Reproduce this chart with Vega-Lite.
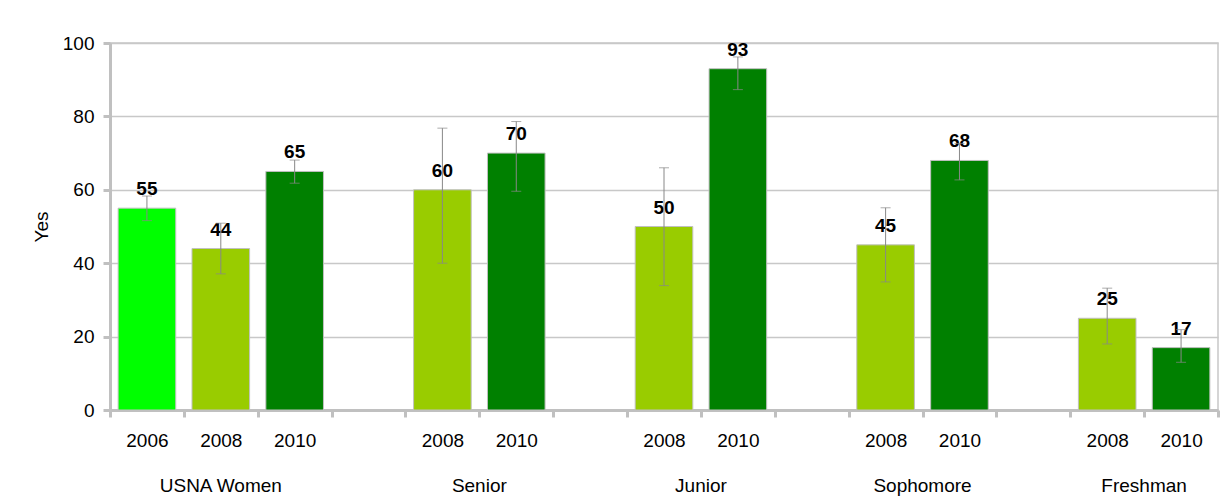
{
  "$schema": "https://vega.github.io/schema/vega-lite/v6.json",
  "width": 1108,
  "height": 367,
  "autosize": "none",
  "padding": {"left": 110, "top": 43, "right": 12, "bottom": 90},
  "background": "white",
  "config": {
    "font": "Liberation Sans",
    "view": {"stroke": "#c8c8c8", "strokeWidth": 1.5},
    "axis": {"labelFont": "Liberation Sans", "titleFont": "Liberation Sans", "labelColor": "#000000", "titleColor": "#000000"}
  },
  "data": {
    "values": [
      {"group": "USNA Women", "year": "2006", "slot": "USNA Women|2006", "value": 55, "lo": 51.6, "hi": 58.3},
      {"group": "USNA Women", "year": "2008", "slot": "USNA Women|2008", "value": 44, "lo": 37.1, "hi": 50.9},
      {"group": "USNA Women", "year": "2010", "slot": "USNA Women|2010", "value": 65, "lo": 61.8, "hi": 68.1},
      {"group": "Senior", "year": "2008", "slot": "Senior|2008", "value": 60, "lo": 40, "hi": 76.8},
      {"group": "Senior", "year": "2010", "slot": "Senior|2010", "value": 70, "lo": 59.6, "hi": 78.6},
      {"group": "Junior", "year": "2008", "slot": "Junior|2008", "value": 50, "lo": 33.9, "hi": 66},
      {"group": "Junior", "year": "2010", "slot": "Junior|2010", "value": 93, "lo": 87.3, "hi": 96.2},
      {"group": "Sophomore", "year": "2008", "slot": "Sophomore|2008", "value": 45, "lo": 34.9, "hi": 55.1},
      {"group": "Sophomore", "year": "2010", "slot": "Sophomore|2010", "value": 68, "lo": 62.7, "hi": 72.6},
      {"group": "Freshman", "year": "2008", "slot": "Freshman|2008", "value": 25, "lo": 18, "hi": 33.2},
      {"group": "Freshman", "year": "2010", "slot": "Freshman|2010", "value": 17, "lo": 13, "hi": 21.9}
    ]
  },
  "encoding": {
    "x": {
      "field": "slot",
      "type": "ordinal",
      "scale": {
        "domain": ["USNA Women|2006", "USNA Women|2008", "USNA Women|2010", "gap1", "Senior|2008", "Senior|2010", "gap2", "Junior|2008", "Junior|2010", "gap3", "Sophomore|2008", "Sophomore|2010", "gap4", "Freshman|2008", "Freshman|2010"],
        "paddingInner": 0,
        "paddingOuter": 0
      },
      "axis": {
        "title": null,
        "labelAngle": 0,
        "labelExpr": "indexof(datum.value + '', '|') > 0 ? split(datum.value + '', '|')[1] : ''",
        "labelFontSize": 19,
        "labelPadding": 14,
        "tickBand": "extent",
        "tickColor": "#c0c0c0",
        "tickWidth": 3,
        "tickSize": 7,
        "domainColor": "#c0c0c0",
        "domainWidth": 3,
        "grid": false
      }
    }
  },
  "layer": [
    {
      "mark": {"type": "bar", "width": {"band": 0.78}, "stroke": "#c0c0c0", "strokeWidth": 1},
      "encoding": {
        "y": {
          "field": "value",
          "type": "quantitative",
          "title": "Yes",
          "scale": {"domain": [0, 100], "nice": false},
          "axis": {
            "title": "Yes",
            "titleFontSize": 19,
            "titleFontWeight": "normal",
            "titlePadding": 11,
            "values": [0, 20, 40, 60, 80, 100],
            "labelFontSize": 19,
            "labelPadding": 9,
            "grid": true,
            "gridColor": "#c8c8c8",
            "gridWidth": 1.5,
            "tickColor": "#c0c0c0",
            "tickWidth": 3,
            "tickSize": 7,
            "domainColor": "#c0c0c0",
            "domainWidth": 3
          }
        },
        "color": {
          "field": "year",
          "type": "nominal",
          "scale": {"domain": ["2006", "2008", "2010"], "range": ["#00ff00", "#99cc00", "#008000"]},
          "legend": null
        }
      }
    },
    {
      "mark": {"type": "text", "fontSize": 19, "fontWeight": "bold", "baseline": "alphabetic", "dy": -13, "color": "#000000"},
      "encoding": {
        "y": {"field": "value", "type": "quantitative", "title": "Yes"},
        "text": {"field": "value", "type": "quantitative"}
      }
    },
    {
      "mark": {"type": "errorbar", "ticks": {"size": 10, "color": "#888888"}, "rule": {"color": "#888888"}, "color": "#888888"},
      "encoding": {
        "y": {"field": "lo", "type": "quantitative", "title": "Yes"},
        "y2": {"field": "hi"}
      }
    },
    {
      "transform": [{"filter": "datum.slot == 'USNA Women|2008'"}],
      "mark": {"type": "text", "fontSize": 19, "baseline": "middle", "dy": 76, "color": "#000000"},
      "encoding": {
        "y": {"datum": 0},
        "text": {"field": "group", "type": "nominal"}
      }
    },
    {
      "transform": [{"filter": "datum.year == '2008' && datum.group != 'USNA Women'"}],
      "mark": {"type": "text", "fontSize": 19, "baseline": "middle", "dy": 76, "color": "#000000"},
      "encoding": {
        "x": {"field": "slot", "type": "ordinal", "bandPosition": 1},
        "y": {"datum": 0},
        "text": {"field": "group", "type": "nominal"}
      }
    }
  ]
}
